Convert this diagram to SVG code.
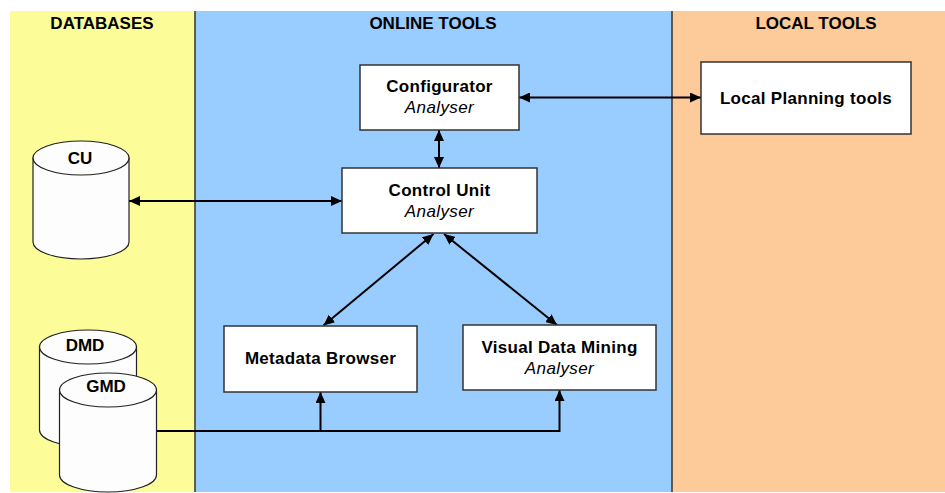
<svg xmlns="http://www.w3.org/2000/svg" width="945" height="493" viewBox="0 0 945 493">
  <defs>
    <marker id="arr" viewBox="0 0 11 10" refX="11" refY="5" markerWidth="11" markerHeight="10" markerUnits="userSpaceOnUse" orient="auto-start-reverse">
      <path d="M0,0 L11,5 L0,10 Z" fill="#000"/>
    </marker>
    <style>
      .hdr{font-family:"Liberation Sans",Arial,sans-serif;font-weight:bold;font-size:17px;fill:#000;text-anchor:middle}
      .ttl{font-family:"Liberation Sans",Arial,sans-serif;font-weight:bold;font-size:17px;letter-spacing:0.3px;fill:#000;text-anchor:middle}
      .sub{font-family:"Liberation Sans",Arial,sans-serif;font-style:italic;font-size:17px;letter-spacing:0.4px;fill:#000;text-anchor:middle}
      .box{fill:#fff;stroke:#333;stroke-width:1.5}
      .cyl{fill:#fdfdfd;stroke:#222;stroke-width:1.2}
      .con{fill:none;stroke:#000;stroke-width:2}
      .div{stroke:#333;stroke-width:1.5}
    </style>
  </defs>
  <rect x="0" y="0" width="945" height="493" fill="#fff"/>
  <g id="lanes">
    <rect x="10" y="11" width="185" height="481" fill="#fcfc99"/>
    <rect x="195" y="11" width="477" height="481" fill="#99ccff"/>
    <rect x="672" y="11" width="273" height="481" fill="#fdcb99"/>
    <line class="div" x1="195" y1="11" x2="195" y2="492"/>
    <line class="div" x1="672" y1="11" x2="672" y2="492"/>
    <text class="hdr" x="102" y="29">DATABASES</text>
    <text class="hdr" x="433" y="29">ONLINE TOOLS</text>
    <text class="hdr" x="816" y="29">LOCAL TOOLS</text>
  </g>
  <g id="connectors">
    <line class="con" x1="519" y1="97.5" x2="701" y2="97.5" marker-start="url(#arr)" marker-end="url(#arr)"/>
    <line class="con" x1="439" y1="130" x2="439" y2="168" marker-start="url(#arr)" marker-end="url(#arr)"/>
    <line class="con" x1="129" y1="201" x2="342" y2="201" marker-start="url(#arr)" marker-end="url(#arr)"/>
    <line class="con" x1="433.5" y1="234" x2="323.5" y2="325.5" marker-start="url(#arr)" marker-end="url(#arr)"/>
    <line class="con" x1="444" y1="234" x2="557" y2="325" marker-start="url(#arr)" marker-end="url(#arr)"/>
    <polyline class="con" points="157,431 559.5,431 559.5,390" marker-end="url(#arr)"/>
    <line class="con" x1="320.5" y1="431" x2="320.5" y2="392" marker-end="url(#arr)"/>
  </g>
  <g id="db-cu">
    <path class="cyl" d="M33,158 L33,242 A48,17 0 0 0 129,242 L129,158 Z"/>
    <ellipse class="cyl" cx="81" cy="158" rx="48" ry="17"/>
    <text class="hdr" x="80" y="164">CU</text>
  </g>
  <g id="db-dmd">
    <path class="cyl" d="M39.5,347 L39.5,430 A48.5,17 0 0 0 136.5,430 L136.5,347 Z"/>
    <ellipse class="cyl" cx="88" cy="347" rx="48.5" ry="17"/>
    <text class="hdr" x="85" y="351">DMD</text>
  </g>
  <g id="db-gmd">
    <path class="cyl" d="M59.5,390 L59.5,475 A48.5,17 0 0 0 156.5,475 L156.5,390 Z"/>
    <ellipse class="cyl" cx="108" cy="390" rx="48.5" ry="17"/>
    <text class="hdr" x="106" y="392">GMD</text>
  </g>
  <g id="configurator">
    <rect class="box" x="360" y="65" width="159" height="65"/>
    <text class="ttl" x="439.5" y="92">Configurator</text>
    <text class="sub" x="439.5" y="113">Analyser</text>
  </g>
  <g id="control-unit">
    <rect class="box" x="342" y="168" width="195" height="65"/>
    <text class="ttl" x="439.5" y="196">Control Unit</text>
    <text class="sub" x="439.5" y="217">Analyser</text>
  </g>
  <g id="metadata-browser">
    <rect class="box" x="224" y="326" width="193" height="66"/>
    <text class="ttl" x="320.5" y="364">Metadata Browser</text>
  </g>
  <g id="visual-data-mining">
    <rect class="box" x="463" y="325" width="193" height="65"/>
    <text class="ttl" x="559.5" y="353">Visual Data Mining</text>
    <text class="sub" x="559.5" y="374">Analyser</text>
  </g>
  <g id="local-planning">
    <rect class="box" x="701" y="62" width="210" height="72"/>
    <text class="ttl" x="806" y="103.5">Local Planning tools</text>
  </g>
</svg>
